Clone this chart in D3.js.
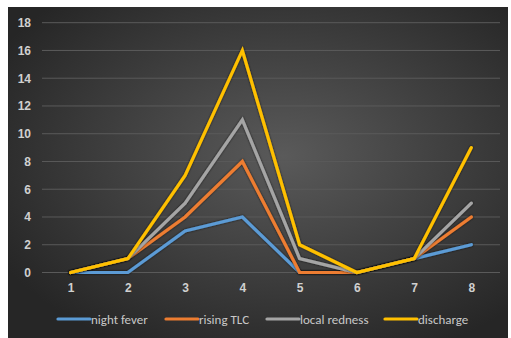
<!DOCTYPE html>
<html><head><meta charset="utf-8">
<script src="https://cdn.jsdelivr.net/npm/d3@7"></script>
<style>
html,body{margin:0;padding:0;background:#fff;}
svg{display:block;font-family:Calibri,Carlito,"Liberation Sans","Open Sans",sans-serif;}
</style></head>
<body><svg id="c" width="511" height="338"></svg>
<script>
const categories = ["1","2","3","4","5","6","7","8"];
const seriesNames = ["night fever","rising TLC","local redness","discharge"];
const nightFever = [0,0,3,4,0,0,1,2];
const risingTLC = [0,1,4,8,0,0,1,4];
const localRedness = [0,1,5,11,1,0,1,5];
const discharge = [0,1,7,16,2,0,1,9];
const yTicks = [0,2,4,6,8,10,12,14,16,18];
const colors = ["#5B9BD5","#ED7D31","#A5A5A5","#FFC000"];

const series = [nightFever, risingTLC, localRedness, discharge];
const svg = d3.select("#c");
const defs = svg.append("defs");
const grad = defs.append("radialGradient").attr("id","bg")
  .attr("cx","55%").attr("cy","45%").attr("r","65%");
grad.append("stop").attr("offset","0%").attr("stop-color","#5a5a5a");
grad.append("stop").attr("offset","100%").attr("stop-color","#262626");
const f = defs.append("filter").attr("id","sh").attr("x","-10%").attr("y","-10%").attr("width","120%").attr("height","120%");
f.append("feDropShadow").attr("dx",0).attr("dy",0).attr("stdDeviation",1).attr("flood-color","#000").attr("flood-opacity",0.8);

svg.append("rect").attr("x",8).attr("y",7).attr("width",500).attr("height",331).attr("fill","url(#bg)");

const x = d3.scalePoint().domain(categories).range([42,500]).padding(0.5);
const y = d3.scaleLinear().domain([0,18]).range([272.5,22.7]);

// gridlines
svg.append("g").selectAll("line").data(yTicks).join("line")
  .attr("x1",42).attr("x2",500).attr("y1",d=>y(d)).attr("y2",d=>y(d))
  .attr("stroke","#5a5a5a").attr("stroke-width",1);

// y axis
const ya = svg.append("g").attr("transform","translate(31,0)")
  .call(d3.axisLeft(y).tickValues(yTicks).tickSize(0).tickPadding(0));
ya.select(".domain").remove();
ya.selectAll("text").attr("fill","#d0d0d0").attr("font-size","12px").attr("font-weight","bold");

// x axis
const xa = svg.append("g").attr("transform","translate(0,283)")
  .call(d3.axisBottom(x).tickSize(0).tickPadding(0));
xa.select(".domain").remove();
xa.selectAll("text").attr("fill","#d0d0d0").attr("font-size","12px").attr("font-weight","bold");

const line = d3.line().x((d,i)=>x(categories[i])).y(d=>y(d));
svg.append("g").selectAll("path").data(series).join("path")
  .attr("d",line).attr("fill","none")
  .attr("stroke",(d,i)=>colors[i]).attr("stroke-width",3.2)
  .attr("stroke-linejoin","miter").attr("stroke-linecap","round")
  .attr("filter","url(#sh)");

// legend
const legX = [58,166,267,385];
const lg = svg.append("g").selectAll("g").data(seriesNames).join("g")
  .attr("transform",(d,i)=>`translate(${legX[i]},319)`);
lg.append("line").attr("x1",0).attr("x2",32).attr("y1",0).attr("y2",0)
  .attr("stroke",(d,i)=>colors[i]).attr("stroke-width",3.2).attr("stroke-linecap","round");
lg.append("text").attr("x",33).attr("y",4.5).text(d=>d)
  .attr("fill","#c8c8c8").attr("font-size","13px");
</script></body></html>
